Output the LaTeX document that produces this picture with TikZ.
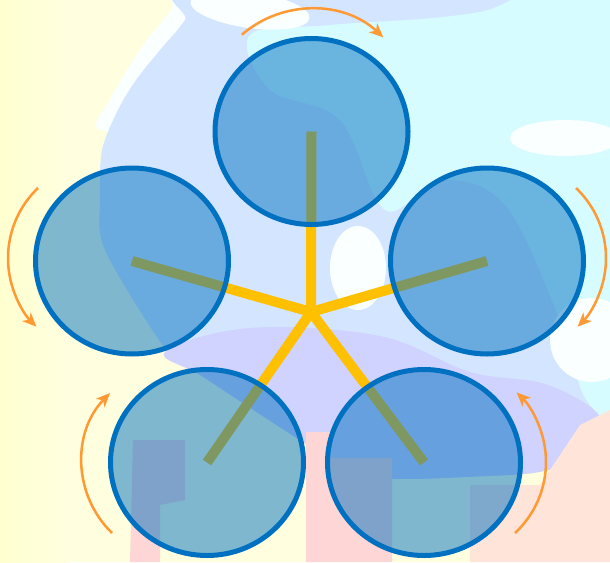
\documentclass[tikz,border=0pt]{standalone}
\usetikzlibrary{arrows.meta,shapes.geometric}
\definecolor{bgyel}{HTML}{FFFFE0}
\definecolor{yelL}{HTML}{FFFFD0}
\definecolor{lblue}{HTML}{D4E6FF}
\definecolor{cyanA}{HTML}{D6FCFF}
\definecolor{whiteA}{HTML}{FAFFFF}
\definecolor{lav}{HTML}{D0D2FF}
\definecolor{pinkA}{HTML}{FFD6D6}
\definecolor{pinkB}{HTML}{FFE4DA}
\definecolor{spokeY}{HTML}{FFC000}
\definecolor{discB}{HTML}{0070C0}
\definecolor{arrO}{HTML}{FF9933}
\tikzset{
  spoke/.style={draw=spokeY, line width=10pt, line cap=butt},
  disc/.style={ellipse, draw=discB, line width=5pt, fill=discB, fill opacity=0.5, draw opacity=1,
    minimum width=193pt, minimum height=186pt, inner sep=0pt},
  turn/.style={draw=arrO, line width=2.5pt, -{Stealth[length=14pt,width=12pt,inset=4pt]}}
}
\begin{document}
\begin{tikzpicture}[x=1pt,y=-1pt]
\useasboundingbox (0,0) rectangle (610,562);
\clip (0,0) rectangle (610,562);
% background
\fill[bgyel] (0,0) rectangle (610,562);
\shade[left color=yelL, right color=bgyel] (0,0) rectangle (70,562);
\fill[whiteA] plot[smooth cycle, tension=0.5] coordinates {(178,-20) (172,8) (147,40) (127,70) (110,100) (100,130) (200,130) (300,40) (300,-20)};
\fill[lblue] plot[smooth cycle, tension=0.5] coordinates {(205,-20) (185,20) (160,50) (136,80) (118,110) (102,150) (100,200) (105,250) (165,348) (205,378) (300,440) (362,476) (486,476) (555,468) (620,430) (680,200) (680,-40)};
\fill[cyanA] plot[smooth cycle, tension=0.6] coordinates {(250,35) (330,25) (480,12) (650,-30) (650,420) (590,405) (560,320) (505,205) (440,180) (385,210) (340,120) (270,90)};
\fill[whiteA, rotate around={-8:(250,10)}] (250,10) ellipse [x radius=60, y radius=18];
\fill[whiteA] (358,268) ellipse [x radius=28, y radius=42];
\fill[whiteA] (592,340) ellipse [x radius=42, y radius=42];
\fill[whiteA] (565,138) ellipse [x radius=55, y radius=18];
\fill[lav] plot[smooth cycle, tension=0.6] coordinates {(165,352) (250,328) (380,336) (470,372) (545,384) (598,414) (590,440) (555,468) (486,476) (362,476) (300,440) (205,378)};
\fill[pinkA] (133,440) -- (185,440) -- (185,500) -- (160,505) -- (160,562) -- (130,562) -- cycle;
\fill[pinkA] (306,432) -- (330,432) -- (330,458) -- (392,458) -- (392,562) -- (306,562) -- cycle;
\fill[pinkB] (470,485) -- (540,485) -- (580,425) -- (610,410) -- (610,562) -- (470,562) -- cycle;
% centres
\coordinate (hub) at (311,312);
\coordinate (cT) at (311.5,131.5);
\coordinate (cL) at (132,261);
\coordinate (cR) at (487,261);
\coordinate (cBL) at (207,462.5);
\coordinate (cBR) at (424,462.5);
% spokes
\foreach \c in {cT,cL,cR,cBL,cBR} \draw[spoke] (hub) -- (\c);
% discs
\node[disc] (nT) at (cT) {};
\node[disc] (nL) at (cL) {};
\node[disc] (nR) at (cR) {};
\node[disc] (nBL) at (cBL) {};
\node[disc] (nBR) at (cBR) {};
% rotation arrows
\coordinate (aT) at (241.8,34.7);
\coordinate (aL) at (38,188);
\coordinate (aR) at (576,188);
\coordinate (aBL) at (112,533);
\coordinate (aBR) at (515,533);
\draw[turn] (aT) arc[start angle=-130.8, end angle=-47, radius=106];
\draw[turn] (aL) arc[start angle=226.3, end angle=135, radius=97];
\draw[turn] (aR) arc[start angle=-46.3, end angle=45, radius=97];
\draw[turn] (aBL) arc[start angle=134.2, end angle=224.2, radius=99];
\draw[turn] (aBR) arc[start angle=47.1, end angle=-45.8, radius=97];
\end{tikzpicture}
\end{document}
